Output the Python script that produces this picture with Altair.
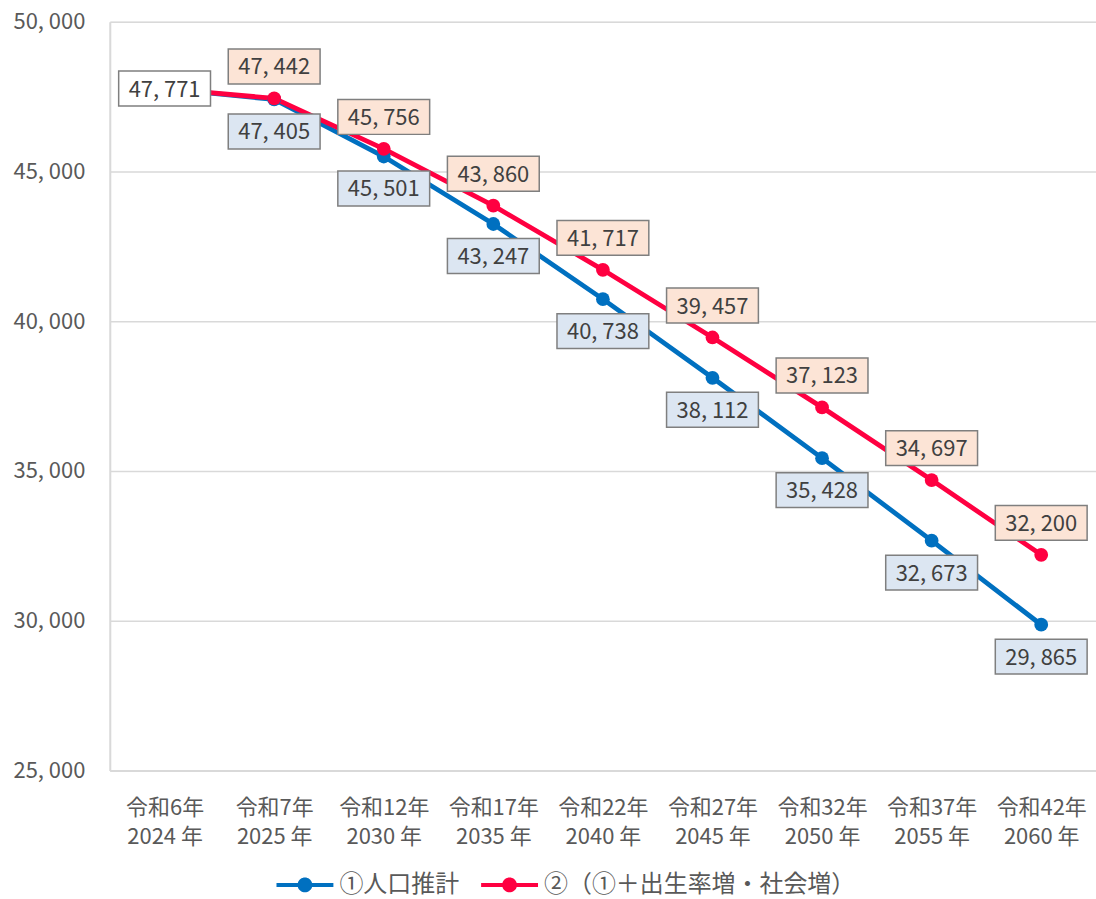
import altair as alt
import pandas as pd

categories = ["令和6年|2024 年", "令和7年|2025 年", "令和12年|2030 年", "令和17年|2035 年",
              "令和22年|2040 年", "令和27年|2045 年", "令和32年|2050 年", "令和37年|2055 年",
              "令和42年|2060 年"]
series_names = ["①人口推計", "②（①＋出生率増・社会増）"]
projection = [47771, 47405, 45501, 43247, 40738, 38112, 35428, 32673, 29865]
scenario = [47771, 47442, 45756, 43860, 41717, 39457, 37123, 34697, 32200]
y_ticks = [25000, 30000, 35000, 40000, 45000, 50000]

BLUE = "#0070C0"
RED = "#FF0041"
JP = "Noto Sans CJK JP"
TXT = "#404040"
AX = "#595959"
BOX = "M-1,-0.38H1V0.38H-1Z"
LEG = "M-1,-0.07H-0.25A0.26,0.26,0,0,1,0.25,-0.07H1V0.07H0.25A0.26,0.26,0,0,1,-0.25,0.07H-1Z"

rows = []
for c, a, b in zip(categories, projection, scenario):
    rows.append({"cat": c, "series": series_names[0], "value": a})
    rows.append({"cat": c, "series": series_names[1], "value": b})
df = pd.DataFrame(rows)

lab_rows = [{"cat": categories[0], "value": projection[0], "kind": "start"}]
for c, a in zip(categories[1:], projection[1:]):
    lab_rows.append({"cat": c, "value": a, "kind": "blue"})
for c, b in zip(categories[1:], scenario[1:]):
    lab_rows.append({"cat": c, "value": b, "kind": "red"})
lab = pd.DataFrame(lab_rows)

x_enc = alt.X("cat:N", sort=categories, scale=alt.Scale(domain=categories), title=None,
              axis=alt.Axis(labelExpr="split(datum.label, '|')", labelAngle=0,
                            labelFont=JP, labelFontSize=22, labelLineHeight=29,
                            labelColor=AX, labelPadding=27, ticks=False, tickSize=0,
                            grid=False, domain=True, domainColor="#D9D9D9", domainWidth=2))
y_enc = alt.Y("value:Q", scale=alt.Scale(domain=[25000, 50000], nice=False, zero=False),
              title=None,
              axis=alt.Axis(values=y_ticks,
                            labelExpr="replace(format(datum.value, ','), ',', ', ')",
                            labelFont=JP, labelFontSize=22, labelColor=AX,
                            labelPadding=25, ticks=False, tickSize=0, grid=True,
                            gridColor="#D9D9D9", gridWidth=1.5, domain=True,
                            domainColor="#D9D9D9", domainWidth=2))

legend = alt.Legend(orient="none", legendX=167, legendY=836, direction="horizontal",
                    title=None, symbolType=LEG, symbolSize=3249, symbolStrokeWidth=0,
                    labelFont=JP, labelFontSize=24, labelColor=AX, labelOffset=6,
                    columnPadding=22, labelLimit=0)
color = alt.Color("series:N", scale=alt.Scale(domain=series_names, range=[BLUE, RED]),
                  legend=legend)

lines = alt.Chart(df).mark_line(strokeWidth=4.8).encode(x=x_enc, y=y_enc, color=color)
points = alt.Chart(df).mark_circle(size=190, opacity=1).encode(x=x_enc, y=y_enc, color=color)

def boxes(kind, fill, dy):
    base = alt.Chart(lab).transform_filter(alt.datum.kind == kind).transform_calculate(
        txt="replace(format(datum.value, ','), ',', ', ')")
    b = base.mark_point(shape=BOX, size=8464, filled=True, fill=fill, stroke="#7F7F7F",
                        strokeWidth=1.5, opacity=1, yOffset=dy).encode(x=x_enc, y=y_enc)
    t = base.mark_text(font=JP, fontSize=22, color=TXT, baseline="middle",
                       yOffset=dy + 1).encode(x=x_enc, y=y_enc, text="txt:N")
    return b + t

chart = alt.layer(
    lines, points,
    boxes("blue", "#DCE6F2", 32),
    boxes("red", "#FCE4D6", -32),
    boxes("start", "#FFFFFF", 0),
).properties(
    width=988, height=750,
    padding={"left": 12, "top": 10, "right": 0, "bottom": 0},
).configure_view(stroke=None).configure(background="white")

chart.save("out.html", embed_options={"renderer": "svg", "actions": False})
